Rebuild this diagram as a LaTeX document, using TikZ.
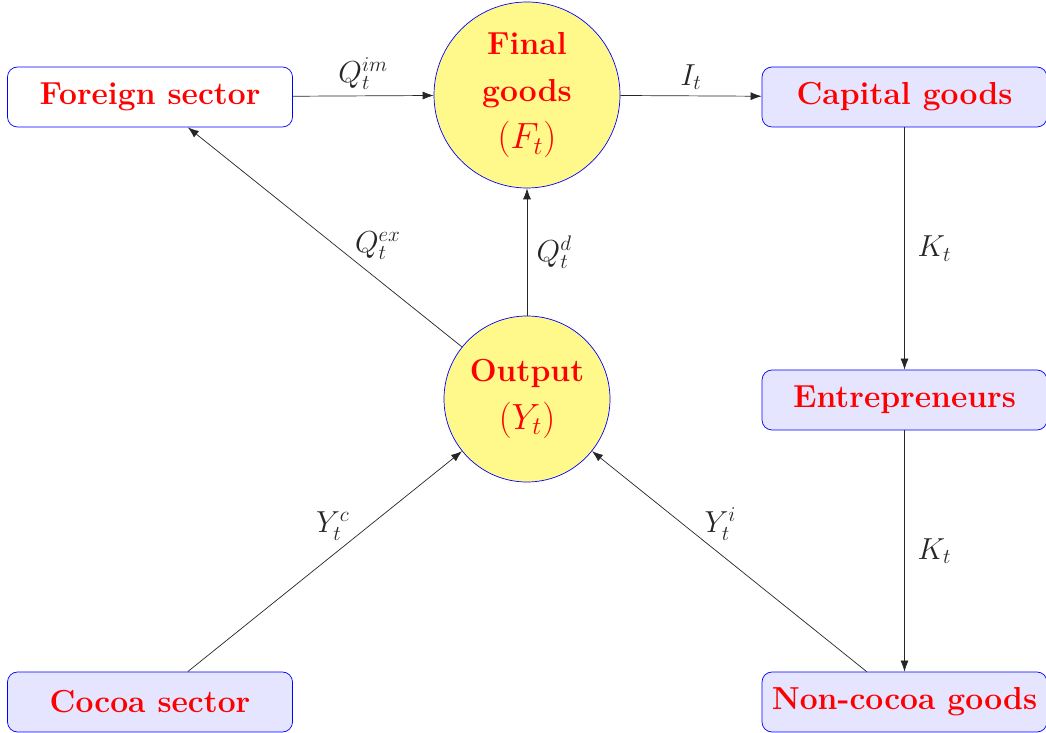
\documentclass[tikz,border=0pt]{standalone}
\usepackage{amsmath,amssymb}
\usepackage{tikz}
\usetikzlibrary{arrows.meta,positioning,shapes.geometric,calc,fit}
\usepackage{xcolor}

\begin{document}
\begin{tikzpicture}[
    sectorbox/.style={draw=blue, rounded corners=0.2cm, fill=blue!10, minimum width=5.7cm, minimum height=1.2cm, font=\fontsize{18.1}{27}\selectfont\bfseries, text=red},
    goodsball/.style={draw=blue, circle, fill=yellow!45, align=center, inner sep=0pt, font=\fontsize{18.1}{27}\selectfont\bfseries, text=red},
    flow/.style={-{Latex[length=2.2mm,width=1.6mm]}, black!85},
    lbl/.style={font=\LARGE}
]
    \useasboundingbox (0,0) rectangle (20.92,14.66);
    % sectors
    \node[sectorbox, fill=white] (foreign) at (3.0,12.72) {Foreign sector};
    \node[sectorbox] (capital) at (18.09,12.72) {Capital goods};
    \node[sectorbox] (entre) at (18.09,6.66) {Entrepreneurs};
    \node[sectorbox] (noncocoa) at (18.09,0.62) {Non-cocoa goods};
    \node[sectorbox] (cocoa) at (3.0,0.62) {Cocoa sector};
    % goods
    \node[goodsball, minimum size=3.72cm] (final) at (10.54,12.76) {Final\\ goods\\ {\fontsize{19.5}{27}\selectfont$(F_t)$}};
    \node[goodsball, minimum size=3.32cm] (output) at (10.54,6.68) {Output\\ {\fontsize{19.5}{27}\selectfont$(Y_t)$}};
    % flows
    \draw[flow] (foreign) -- node[lbl, above] {$Q_t^{im}$} (final);
    \draw[flow] (final) -- node[lbl, above] {$I_t$} (capital);
    \draw[flow] (capital) -- node[lbl, right=4pt] {$K_t$} (entre);
    \draw[flow] (entre) -- node[lbl, right=4pt] {$K_t$} (noncocoa);
    \draw[flow] (output) -- node[lbl, right=2pt] {$Q_t^d$} (final);
    \draw[flow] (output) -- node[lbl, above right=-4pt and -2pt, pos=0.4] {$Q_t^{ex}$} (foreign);
    \draw[flow] (cocoa) -- node[lbl, above left=-4pt and -2pt, pos=0.6] {$Y_t^c$} (output);
    \draw[flow] (noncocoa) -- node[lbl, above right=-4pt and -2pt, pos=0.6] {$Y_t^i$} (output);
\end{tikzpicture}
\end{document}
